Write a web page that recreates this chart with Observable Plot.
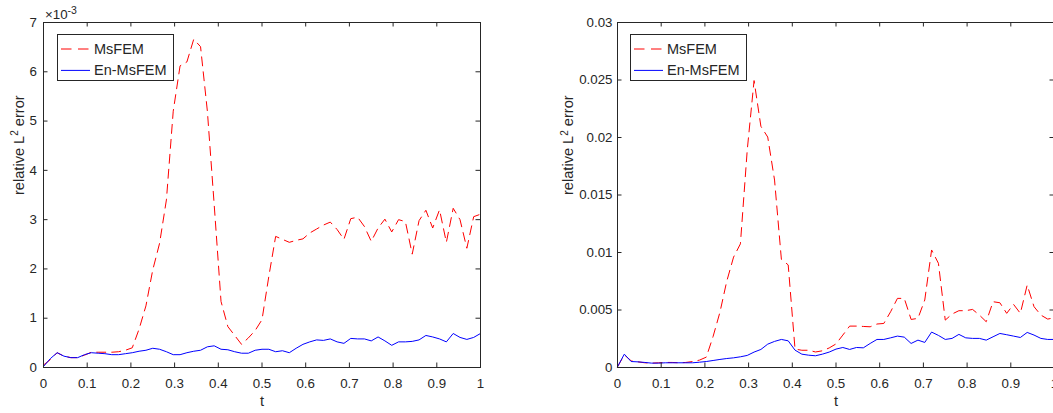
<!DOCTYPE html>
<html><head><meta charset="utf-8">
<script src="https://cdn.jsdelivr.net/npm/d3@7"></script>
<script src="https://cdn.jsdelivr.net/npm/@observablehq/plot@0.6"></script>
<style>
body{margin:0;background:#fff;}
#wrap{position:relative;width:1053px;height:413px;overflow:hidden;font-family:"Liberation Sans",Arial,Helvetica,sans-serif;background:#fff;}
#wrap svg{position:absolute;top:0;}
</style></head><body><div id="wrap"></div>
<script>
// time grid (65 samples)
const t = [0,0.015625,0.03125,0.046875,0.0625,0.078125,0.09375,0.109375,0.125,0.140625,0.15625,0.171875,0.1875,0.203125,0.21875,0.234375,0.25,0.265625,0.28125,0.296875,0.3125,0.328125,0.34375,0.359375,0.375,0.390625,0.40625,0.421875,0.4375,0.453125,0.46875,0.484375,0.5,0.515625,0.53125,0.546875,0.5625,0.578125,0.59375,0.609375,0.625,0.640625,0.65625,0.671875,0.6875,0.703125,0.71875,0.734375,0.75,0.765625,0.78125,0.796875,0.8125,0.828125,0.84375,0.859375,0.875,0.890625,0.90625,0.921875,0.9375,0.953125,0.96875,0.984375,1];

// left panel (values in units of 10^-3)
const msfemLeft = [0.05,0.16,0.30,0.23,0.20,0.20,0.25,0.31,0.31,0.31,0.31,0.32,0.35,0.40,0.78,1.25,1.98,2.52,3.40,5.20,6.12,6.20,6.66,6.51,5.20,3.30,1.34,0.83,0.65,0.47,0.60,0.75,0.97,1.85,2.66,2.60,2.54,2.58,2.61,2.73,2.81,2.89,2.95,2.80,2.60,3.02,3.05,2.86,2.56,2.83,3.01,2.75,3.00,2.96,2.30,2.98,3.19,2.83,3.20,2.54,3.23,3.00,2.42,3.06,3.11];
const enLeft = [0.02,0.18,0.30,0.23,0.20,0.20,0.26,0.30,0.29,0.28,0.26,0.26,0.28,0.30,0.33,0.35,0.39,0.37,0.32,0.26,0.26,0.30,0.33,0.35,0.42,0.44,0.37,0.36,0.32,0.29,0.29,0.35,0.37,0.37,0.32,0.34,0.30,0.39,0.47,0.52,0.56,0.55,0.58,0.52,0.49,0.59,0.58,0.58,0.54,0.62,0.54,0.45,0.52,0.52,0.53,0.56,0.65,0.62,0.58,0.52,0.69,0.61,0.57,0.61,0.69];

// right panel
const msfemRight = [0.00006,0.0011,0.00058,0.00049,0.00041,0.00038,0.00041,0.00044,0.00044,0.00041,0.00044,0.00052,0.00064,0.0009,0.0027,0.0048,0.0075,0.0096,0.01075,0.0189,0.02495,0.02097,0.02004,0.0163,0.00941,0.00892,0.0016,0.0015,0.0015,0.00135,0.00145,0.0017,0.00205,0.00282,0.0036,0.0036,0.00357,0.00354,0.00378,0.00383,0.00485,0.00601,0.00601,0.00418,0.00427,0.00587,0.01022,0.00906,0.00412,0.00465,0.00494,0.00494,0.00505,0.00456,0.00398,0.00572,0.00563,0.00471,0.00549,0.00471,0.00717,0.00529,0.00456,0.00421,0.00433];
const enRight = [0.00006,0.00116,0.00052,0.00049,0.00044,0.00038,0.00038,0.00041,0.00041,0.00041,0.00041,0.00041,0.00046,0.00052,0.00061,0.0007,0.00078,0.00084,0.00093,0.00105,0.00134,0.00157,0.00203,0.00227,0.00244,0.00232,0.00151,0.00116,0.00107,0.00102,0.00116,0.00134,0.0016,0.00174,0.00157,0.00174,0.00171,0.00209,0.00244,0.00244,0.00258,0.00273,0.00264,0.00209,0.00238,0.00218,0.00308,0.00279,0.00244,0.00253,0.00288,0.00258,0.00253,0.00253,0.00238,0.00267,0.00296,0.00285,0.00273,0.00261,0.00305,0.00282,0.00253,0.00244,0.00244];

const xTicks = [0,0.1,0.2,0.3,0.4,0.5,0.6,0.7,0.8,0.9,1];
const xTickLabels = ["0","0.1","0.2","0.3","0.4","0.5","0.6","0.7","0.8","0.9","1"];
const yTicksLeft = [0,1,2,3,4,5,6,7];
const yTickLabelsLeft = ["0","1","2","3","4","5","6","7"];
const yTicksRight = [0,0.005,0.01,0.015,0.02,0.025,0.03];
const yTickLabelsRight = ["0","0.005","0.01","0.015","0.02","0.025","0.03"];
const seriesNames = ["MsFEM","En-MsFEM"];
const seriesColors = ["#ff0000","#0000ff"];
const xLabel = "t";
const yLabel = "relative L2 error";
const expLabel = "×10-3";

const FONT = "'Liberation Sans', Arial, Helvetica, sans-serif";
const AX = "#262626";
const wrap = document.getElementById("wrap");

function panel({left, width, marginLeft, marginRight, yDomain, yTicks, yLabels, red, blue, labelDx, tickPad, exp}) {
  const H = 413, mt = 22, mb = 46;
  const ph = H - mt - mb, pw = width - marginLeft - marginRight, tk = 4.5;
  const rows = t.map((x, i) => ({t: x, ms: red[i], en: blue[i]}));
  const marks = [
    Plot.line(rows, {x: "t", y: "ms", stroke: seriesColors[0], strokeWidth: 1, strokeDasharray: "9,6"}),
    Plot.line(rows, {x: "t", y: "en", stroke: seriesColors[1], strokeWidth: 1}),
    Plot.frame({stroke: AX, strokeWidth: 1}),
    Plot.tickX(xTicks, {x: d => d, insetTop: ph - tk, stroke: AX}),
    Plot.tickX(xTicks, {x: d => d, insetBottom: ph - tk, stroke: AX}),
    Plot.tickY(yTicks, {y: d => d, insetRight: pw - tk, stroke: AX}),
    Plot.tickY(yTicks, {y: d => d, insetLeft: pw - tk, stroke: AX}),
    Plot.axisX(xTicks, {tickSize: 0, tickPadding: 10.8, tickFormat: d => xTickLabels[xTicks.indexOf(d)], label: null, fill: AX}),
    Plot.axisY(yTicks, {tickSize: 0, tickPadding: tickPad, tickFormat: d => yLabels[yTicks.indexOf(d)], label: null, fill: AX}),
    Plot.text([xLabel], {frameAnchor: "bottom", dy: 28.6, lineAnchor: "top", text: d => d, fontSize: 14.6, fill: AX}),
    Plot.text([yLabel], {frameAnchor: "left", dx: labelDx, rotate: -90, lineAnchor: "middle", text: d => d, fontSize: 14.6, fill: AX})
  ];
  if (exp) marks.push(Plot.text([expLabel], {frameAnchor: "top-left", textAnchor: "start", lineAnchor: "top", dx: 1.5, dy: -12.5, text: d => d, fontSize: 13.3, fill: AX}));
  const svg = Plot.plot({
    width, height: H, marginLeft, marginRight, marginTop: mt, marginBottom: mb,
    x: {domain: [0, 1]},
    y: {domain: yDomain},
    style: {fontFamily: FONT, fontSize: "13.3px", color: AX, background: "transparent", overflow: "visible"},
    marks
  });
  svg.style.left = left + "px";
  d3.select(svg).selectAll("text").each(function() {
    if (this.textContent === yLabel) {
      this.innerHTML = 'relative L<tspan dy="-5.5" font-size="10">2</tspan><tspan dy="5.5"> error</tspan>';
    } else if (this.textContent === expLabel) {
      this.innerHTML = '×10<tspan dy="-5.5" font-size="10.5">-3</tspan>';
    }
  });
  wrap.appendChild(svg);
}

function legend(left) {
  const svg = d3.create("svg").attr("width", 118).attr("height", 48)
    .style("left", left + "px").style("top", "34px");
  svg.append("rect").attr("x", 0.5).attr("y", 0.5).attr("width", 116).attr("height", 46)
    .attr("fill", "#fff").attr("stroke", AX).attr("stroke-width", 1);
  seriesNames.forEach((name, i) => {
    const y = 15 + i * 21.4;
    svg.append("line").attr("x1", 4).attr("x2", 33).attr("y1", y).attr("y2", y)
      .attr("stroke", seriesColors[i]).attr("stroke-width", 1)
      .attr("stroke-dasharray", i === 0 ? "10.5,6.5" : null);
    svg.append("text").attr("x", 37).attr("y", y).attr("dy", "0.35em")
      .attr("font-family", FONT).attr("font-size", 14.5).attr("fill", AX).text(name);
  });
  wrap.appendChild(svg.node());
}

panel({left: 0, width: 530, marginLeft: 43, marginRight: 50, yDomain: [0, 7], yTicks: yTicksLeft, yLabels: yTickLabelsLeft, red: msfemLeft, blue: enLeft, labelDx: -24.2, tickPad: 6.5, exp: true});
panel({left: 560, width: 494, marginLeft: 57, marginRight: 0, yDomain: [0, 0.03], yTicks: yTicksRight, yLabels: yTickLabelsRight, red: msfemRight, blue: enRight, labelDx: -48.9, tickPad: 5, exp: false});
legend(57);
legend(630);
</script></body></html>
